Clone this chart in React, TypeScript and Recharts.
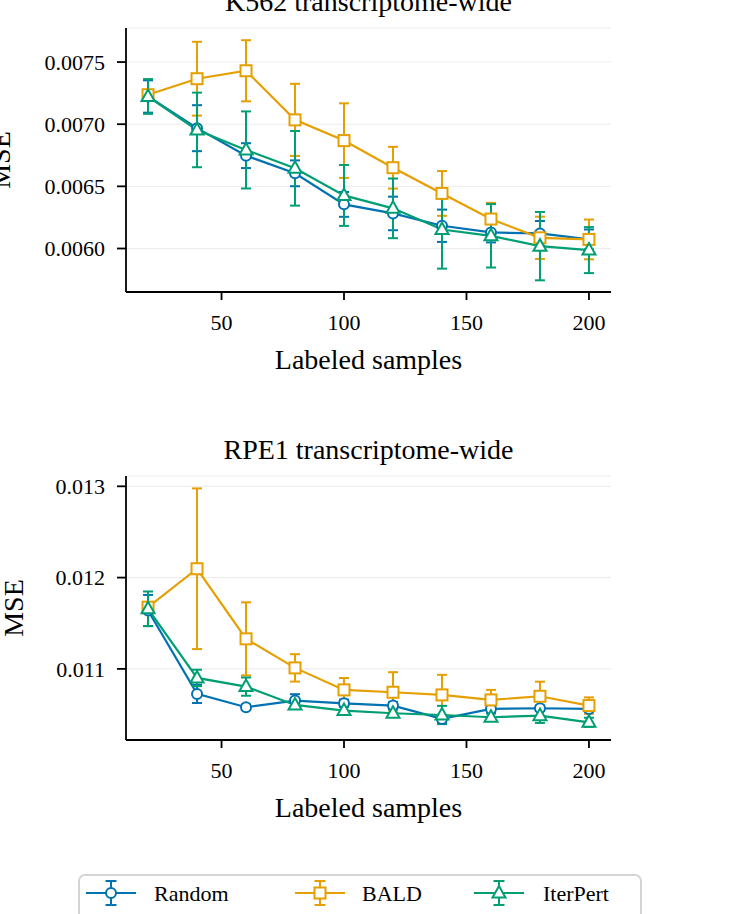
import React from 'react'
import { LineChart, Line, XAxis, YAxis, CartesianGrid, ErrorBar } from 'recharts'

const SAMPLES = [20, 40, 60, 80, 100, 120, 140, 160, 180, 200]
const X_TICKS = [50, 100, 150, 200]

// K562 transcriptome-wide
const K562_RANDOM = [0.007223, 0.006968, 0.006747, 0.006605, 0.006355, 0.006282, 0.006183, 0.006129, 0.006121, 0.006073]
const K562_RANDOM_ERR = [0.00013, 0.000185, 0.0001, 0.000104, 0.0001, 0.000135, 0.00013, 0.00008, 0.0001, 0.00008]
const K562_BALD = [0.007237, 0.007366, 0.00743, 0.007035, 0.006868, 0.00665, 0.006443, 0.006237, 0.006086, 0.006073]
const K562_BALD_ERR = [0.00004, 0.000297, 0.000246, 0.00029, 0.0003, 0.000168, 0.00018, 0.00013, 0.00017, 0.00016]
const K562_ITERPERT = [0.007223, 0.006954, 0.006793, 0.006645, 0.006427, 0.006323, 0.006153, 0.006102, 0.006019, 0.005987]
const K562_ITERPERT_ERR = [0.00014, 0.0003, 0.00031, 0.0003, 0.000245, 0.00024, 0.000315, 0.000255, 0.000275, 0.000185]
const K562_TICKS = [0.006, 0.0065, 0.007, 0.0075]

// RPE1 transcriptome-wide
const RPE1_RANDOM = [0.01164, 0.010726, 0.01058, 0.010653, 0.010623, 0.010598, 0.010452, 0.010561, 0.010569, 0.010561]
const RPE1_RANDOM_ERR = [0.00017, 0.0001, 0.00003, 0.00007, 0.00004, 0.00004, 0.00004, 0.00003, 0.00003, 0.00003]
const RPE1_BALD = [0.011676, 0.012097, 0.011329, 0.011011, 0.01077, 0.010744, 0.010715, 0.01066, 0.0107, 0.010598]
const RPE1_BALD_ERR = [0.00005, 0.00088, 0.0004, 0.00015, 0.00013, 0.00022, 0.00022, 0.00011, 0.00016, 0.00009]
const RPE1_ITERPERT = [0.011658, 0.010901, 0.010806, 0.010605, 0.010543, 0.010514, 0.010495, 0.01047, 0.010488, 0.010415]
const RPE1_ITERPERT_ERR = [0.00019, 0.00009, 0.0001, 0.00004, 0.00004, 0.00004, 0.0001, 0.00004, 0.00008, 0.00005]
const RPE1_TICKS = [0.011, 0.012, 0.013]

const BLUE = '#0072b2'
const ORANGE = '#e69f00'
const GREEN = '#009e73'
const FONT = '"Liberation Serif", "Times New Roman", serif'

function buildRows(random: number[], randomErr: number[], bald: number[], baldErr: number[], iter: number[], iterErr: number[]) {
  return SAMPLES.map((n, i) => ({
    n,
    random: random[i],
    randomErr: randomErr[i],
    bald: bald[i],
    baldErr: baldErr[i],
    iterpert: iter[i],
    iterpertErr: iterErr[i],
  }))
}

const circleDot = (color: string) => (p: any) => (
  <circle key={`c-${p.index}`} cx={p.cx} cy={p.cy} r={5} fill="#fff" stroke={color} strokeWidth={2} />
)
const squareDot = (color: string) => (p: any) => (
  <rect key={`s-${p.index}`} x={p.cx - 5.5} y={p.cy - 5.5} width={11} height={11} fill="#fff" stroke={color} strokeWidth={2} />
)
const triangleDot = (color: string) => (p: any) => (
  <polygon
    key={`t-${p.index}`}
    points={`${p.cx},${p.cy - 7} ${p.cx - 6.5},${p.cy + 4.5} ${p.cx + 6.5},${p.cy + 4.5}`}
    fill="#fff"
    stroke={color}
    strokeWidth={2}
  />
)

interface PanelProps {
  top: number
  title: string
  rows: any[]
  domain: [number, number]
  ticks: number[]
  digits: number
  msePos: number
}

function Panel({ top, title, rows, domain, ticks, digits, msePos }: PanelProps) {
  return (
    <div style={{ position: 'absolute', left: 0, top, width: 737, height: 390 }}>
      <LineChart width={737} height={390} data={rows} margin={{ top: 28, right: 126, bottom: 0, left: 0 }}>
        <CartesianGrid horizontal vertical={false} stroke="#ebebeb" strokeWidth={1} />
        <XAxis
          dataKey="n"
          type="number"
          domain={[11, 209]}
          ticks={X_TICKS}
          allowDataOverflow
          height={98}
          stroke="#000"
          strokeWidth={1.8}
          tickSize={8}
          tickMargin={14}
          tick={{ fill: '#000', fontSize: 22, fontFamily: FONT }}
          label={{
            content: ({ viewBox }: any) => (
              <text x={viewBox.x + viewBox.width / 2} y={viewBox.y + 77} textAnchor="middle" fontSize={28} fontFamily={FONT} fill="#000">
                Labeled samples
              </text>
            ),
          }}
        />
        <YAxis
          type="number"
          domain={domain}
          ticks={ticks}
          allowDataOverflow
          width={126}
          stroke="#000"
          strokeWidth={1.8}
          tickSize={9}
          tickMargin={12}
          tickFormatter={(v: number) => v.toFixed(digits)}
          tick={{ fill: '#000', fontSize: 22, fontFamily: FONT }}
          label={{
            content: ({ viewBox }: any) => {
              const cy = viewBox.y + viewBox.height / 2
              return (
                <text x={msePos} y={cy} transform={`rotate(-90 ${msePos} ${cy})`} textAnchor="middle" fontSize={28} fontFamily={FONT} fill="#000">
                  MSE
                </text>
              )
            },
          }}
        />
        <Line dataKey="random" stroke={BLUE} strokeWidth={2.2} dot={circleDot(BLUE)} activeDot={false} isAnimationActive={false}>
          <ErrorBar dataKey="randomErr" direction="y" width={5} stroke={BLUE} strokeWidth={2} isAnimationActive={false} />
        </Line>
        <Line dataKey="bald" stroke={ORANGE} strokeWidth={2.2} dot={squareDot(ORANGE)} activeDot={false} isAnimationActive={false}>
          <ErrorBar dataKey="baldErr" direction="y" width={5} stroke={ORANGE} strokeWidth={2} isAnimationActive={false} />
        </Line>
        <Line dataKey="iterpert" stroke={GREEN} strokeWidth={2.2} dot={triangleDot(GREEN)} activeDot={false} isAnimationActive={false}>
          <ErrorBar dataKey="iterpertErr" direction="y" width={5} stroke={GREEN} strokeWidth={2} isAnimationActive={false} />
        </Line>
      </LineChart>
      <svg width={737} height={60} style={{ position: 'absolute', left: 0, top: -40, pointerEvents: 'none' }}>
        <text x={368.5} y={51} textAnchor="middle" fontSize={28} fontFamily={FONT} fill="#000">
          {title}
        </text>
      </svg>
    </div>
  )
}

const LEGEND = [
  { name: 'Random', color: BLUE, lineX: 86, textX: 154, shape: 'circle' },
  { name: 'BALD', color: ORANGE, lineX: 295, textX: 362, shape: 'square' },
  { name: 'IterPert', color: GREEN, lineX: 474, textX: 543, shape: 'triangle' },
]

function LegendBox() {
  const y = 893
  return (
    <svg width={737} height={914} style={{ position: 'absolute', left: 0, top: 0, pointerEvents: 'none' }}>
      <rect x={79} y={875} width={562} height={60} rx={6} fill="#fff" stroke="#d4d4d4" strokeWidth={2} />
      {LEGEND.map((it) => {
        const cx = it.lineX + 25
        return (
          <g key={it.name}>
            <line x1={it.lineX} x2={it.lineX + 50} y1={y} y2={y} stroke={it.color} strokeWidth={2.2} />
            <line x1={cx} x2={cx} y1={y - 12} y2={y + 12} stroke={it.color} strokeWidth={2} />
            <line x1={cx - 5.5} x2={cx + 5.5} y1={y - 12} y2={y - 12} stroke={it.color} strokeWidth={2} />
            <line x1={cx - 5.5} x2={cx + 5.5} y1={y + 12} y2={y + 12} stroke={it.color} strokeWidth={2} />
            {it.shape === 'circle' && <circle cx={cx} cy={y} r={5} fill="#fff" stroke={it.color} strokeWidth={2} />}
            {it.shape === 'square' && <rect x={cx - 5.5} y={y - 5.5} width={11} height={11} fill="#fff" stroke={it.color} strokeWidth={2} />}
            {it.shape === 'triangle' && (
              <polygon points={`${cx},${y - 7} ${cx - 6.5},${y + 4.5} ${cx + 6.5},${y + 4.5}`} fill="#fff" stroke={it.color} strokeWidth={2} />
            )}
            <text x={it.textX} y={y + 8} fontSize={22} fontFamily={FONT} fill="#000">
              {it.name}
            </text>
          </g>
        )
      })}
    </svg>
  )
}

export default function App() {
  const k562 = buildRows(K562_RANDOM, K562_RANDOM_ERR, K562_BALD, K562_BALD_ERR, K562_ITERPERT, K562_ITERPERT_ERR)
  const rpe1 = buildRows(RPE1_RANDOM, RPE1_RANDOM_ERR, RPE1_BALD, RPE1_BALD_ERR, RPE1_ITERPERT, RPE1_ITERPERT_ERR)
  return (
    <div style={{ position: 'absolute', left: 0, top: 0, width: 737, height: 914, overflow: 'hidden', background: '#fff' }}>
      <Panel top={0} title="K562 transcriptome-wide" rows={k562} domain={[0.00565, 0.007774]} ticks={K562_TICKS} digits={4} msePos={10} />
      <Panel top={448} title="RPE1 transcriptome-wide" rows={rpe1} domain={[0.010221, 0.013113]} ticks={RPE1_TICKS} digits={3} msePos={23} />
      <LegendBox />
    </div>
  )
}
